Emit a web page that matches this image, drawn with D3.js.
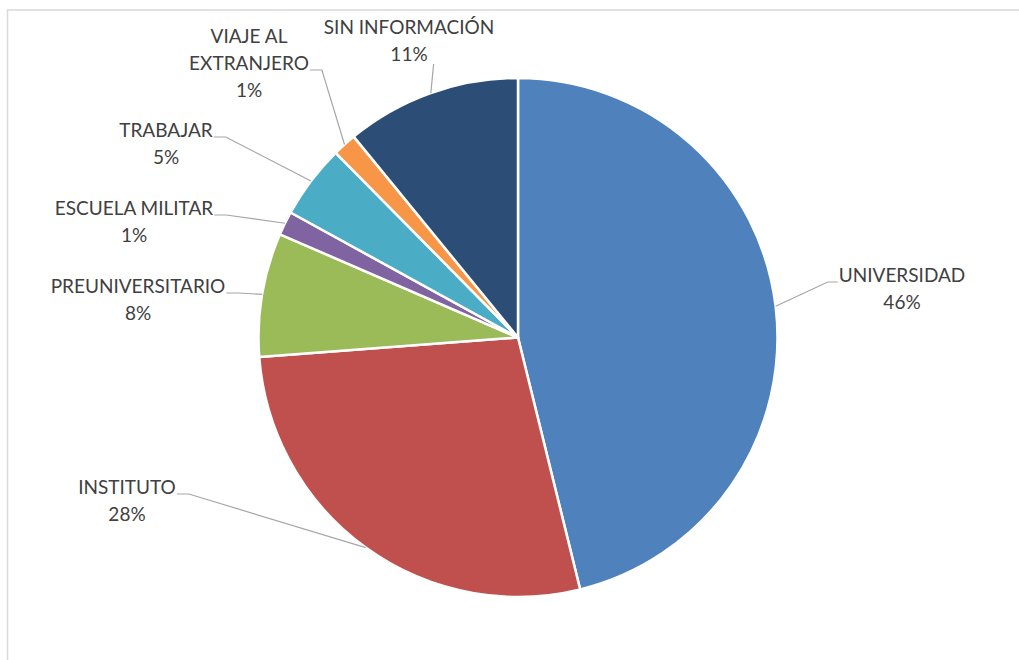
<!DOCTYPE html>
<html>
<head>
<meta charset="utf-8">
<script src="https://cdn.jsdelivr.net/npm/d3@7"></script>
<style>
  html, body { margin: 0; padding: 0; background: #fff; }
  svg { display: block; }
</style>
</head>
<body>
<svg id="chart" width="1019" height="660"></svg>
<script>
// ---- data ----
const categories = ["UNIVERSIDAD", "INSTITUTO", "PREUNIVERSITARIO", "ESCUELA MILITAR", "TRABAJAR", "VIAJE AL EXTRANJERO", "SIN INFORMACIÓN"];
const values = [46.15, 27.66, 7.70, 1.49, 4.60, 1.49, 10.91];
const colors = ["#4F81BD", "#C0504D", "#9BBB59", "#8064A2", "#4BACC6", "#F79646", "#2C4D75"];
// label text lines (category name split as in the original)
const labelLines = [["UNIVERSIDAD"], ["INSTITUTO"], ["PREUNIVERSITARIO"], ["ESCUELA MILITAR"], ["TRABAJAR"], ["VIAJE AL", "EXTRANJERO"], ["SIN INFORMACIÓN"]];

// ---- layout (label placement) ----
const labelLayout = [
  { cx: 902, y: 282, side: "right" },
  { cx: 127, y: 494, side: "left" },
  { cx: 138, y: 293, side: "left" },
  { cx: 134, y: 215, side: "left" },
  { cx: 166, y: 137, side: "left" },
  { cx: 249, y: 43,  side: "left", leaderLine: 1 },
  { cx: 409, y: 34,  side: "below" }
];

const W = 1019, H = 660;
const cx = 518, cy = 337.5, R = 259.5;
const lineH = 27;
const svg = d3.select("#chart");

// chart border
svg.append("path")
  .attr("d", `M${W + 5},10 H7.5 V${H + 5}`)
  .attr("fill", "none").attr("stroke", "#d9d9d9").attr("stroke-width", 1.5);

const total = d3.sum(values);
const pie = d3.pie().sort(null).value(d => d)(values);
const arc = d3.arc().innerRadius(0).outerRadius(R);
const edge = d3.arc().innerRadius(R).outerRadius(R);

const g = svg.append("g").attr("transform", `translate(${cx},${cy})`);
g.selectAll("path.slice").data(pie).join("path")
  .attr("class", "slice")
  .attr("d", arc)
  .attr("fill", (d, i) => colors[i])
  .attr("stroke", "#fff").attr("stroke-width", 2.5).attr("stroke-linejoin", "round");

const fmt = v => Math.round(v / total * 100) + "%";
const font = "Lato, 'Open Sans', sans-serif";
const fontSize = 19;

const lg = svg.append("g");
const tg = svg.append("g");

pie.forEach((p, i) => {
  const L = labelLayout[i];
  const lines = labelLines[i].concat([fmt(values[i])]);
  const t = tg.append("text")
    .attr("font-family", font).attr("font-size", fontSize)
    .attr("fill", "#404040").attr("text-anchor", "middle");
  lines.forEach((s, k) => {
    t.append("tspan").attr("x", L.cx).attr("y", L.y + k * lineH).text(s);
  });
  // leader line
  const [ex, ey] = edge.centroid(p);
  const end = [cx + ex, cy + ey];
  const li = L.leaderLine || 0;
  const tsp = t.selectAll("tspan").nodes()[li];
  const wdt = tsp.getComputedTextLength();
  const ly = L.y + li * lineH;
  let pts;
  if (L.side === "left") {
    const sx = L.cx + wdt / 2 + 1;
    pts = [[sx, ly], [sx + 12, ly], end];
  } else if (L.side === "right") {
    const sx = L.cx - wdt / 2 - 1;
    pts = [[sx, ly], [sx - 10, ly], end];
  } else {
    const last = t.selectAll("tspan").nodes()[lines.length - 1];
    const w2 = last.getComputedTextLength();
    const sx = L.cx + w2 / 2 + 6;
    pts = [[sx, L.y + (lines.length - 1) * lineH + 3], end];
  }
  lg.append("path")
    .attr("d", d3.line()(pts))
    .attr("fill", "none").attr("stroke", "#a6a6a6").attr("stroke-width", 1.2);
});
</script>
</body>
</html>
